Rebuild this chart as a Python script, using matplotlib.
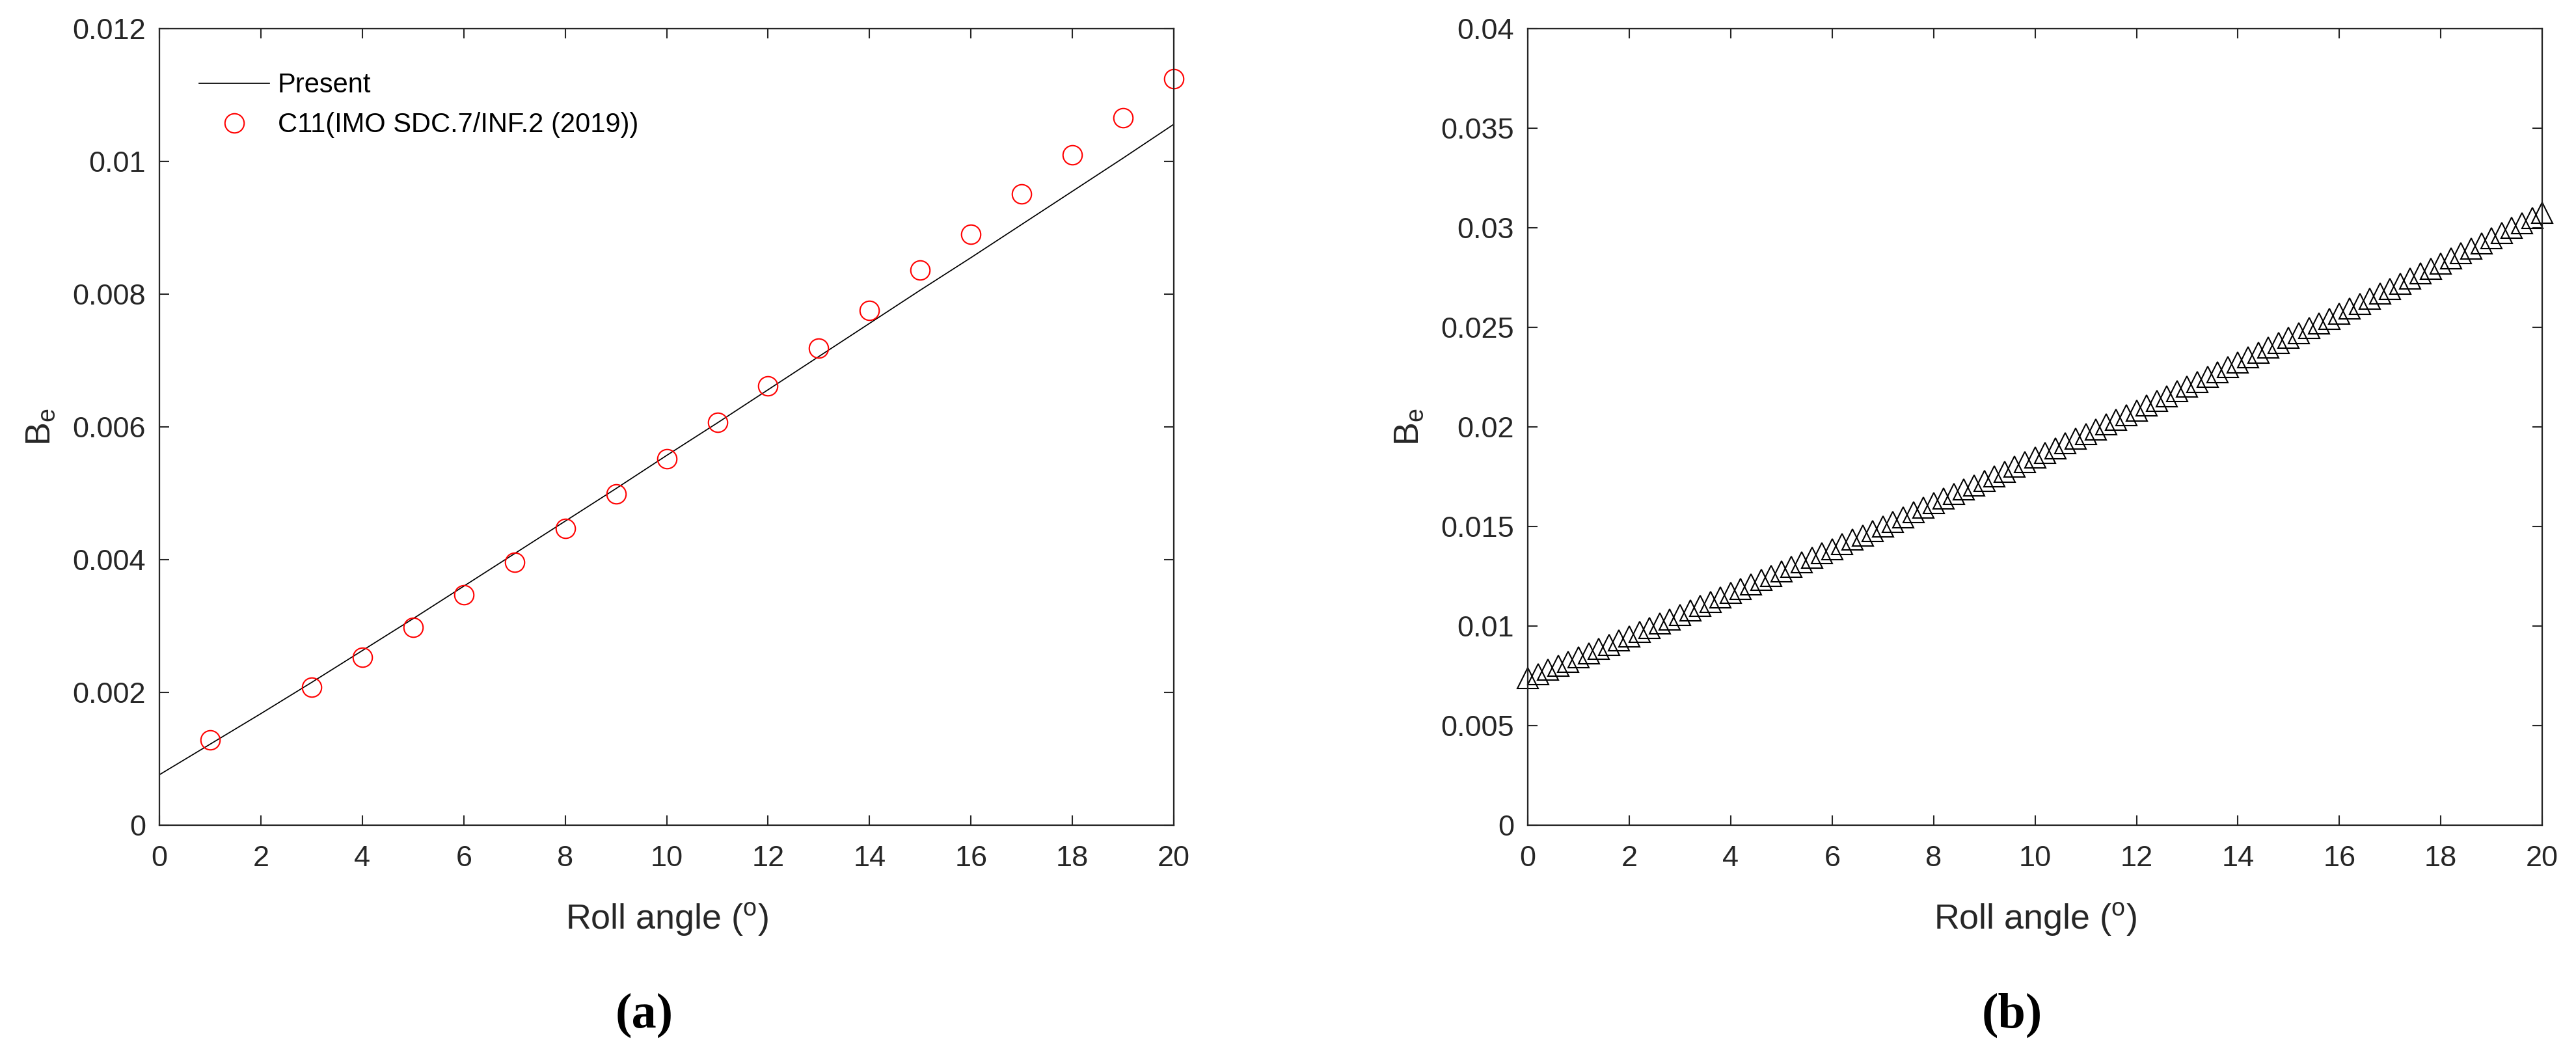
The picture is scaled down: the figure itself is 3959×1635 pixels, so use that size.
import numpy as np
import matplotlib
matplotlib.use('Agg')
import matplotlib.pyplot as plt

plt.rcParams['font.family'] = ['Liberation Sans', 'DejaVu Sans']
plt.rcParams['mathtext.default'] = 'regular'

# (a) present method vs. IMO C11 values
angle_line = list(range(0, 21))
be_present = [0.00076, 0.00122, 0.00168, 0.00215, 0.00263, 0.00311, 0.00360,
              0.00409, 0.00458, 0.00507, 0.00557, 0.00606, 0.00656, 0.00706,
              0.00756, 0.00806, 0.00855, 0.00905, 0.00955, 0.01005, 0.01056]

angle_c11 = [1, 3, 4, 5, 6, 7, 8, 9, 10, 11, 12, 13, 14, 15, 16, 17, 18, 19, 20]
be_c11 = [0.00128, 0.00208, 0.00253, 0.00298, 0.00347, 0.00396, 0.00447,
          0.00499, 0.00552, 0.00607, 0.00662, 0.00719, 0.00775, 0.00836,
          0.00890, 0.00951, 0.01010, 0.01066, 0.01124]

# (b) B_e over roll angle, step 0.2 deg
angle_b = np.round(np.arange(0, 20.001, 0.2), 1)
be_b = [0.00738, 0.00759, 0.00780, 0.00800, 0.00821,
        0.00842, 0.00863, 0.00884, 0.00906, 0.00927,
        0.00948, 0.00970, 0.00991, 0.01013, 0.01034,
        0.01056, 0.01078, 0.01100, 0.01121, 0.01143,
        0.01165, 0.01187, 0.01209, 0.01231, 0.01253,
        0.01275, 0.01297, 0.01320, 0.01342, 0.01365,
        0.01387, 0.01410, 0.01433, 0.01455, 0.01478,
        0.01501, 0.01524, 0.01547, 0.01571, 0.01594,
        0.01617, 0.01640, 0.01662, 0.01685, 0.01707,
        0.01730, 0.01753, 0.01776, 0.01800, 0.01823,
        0.01846, 0.01870, 0.01893, 0.01917, 0.01940,
        0.01964, 0.01988, 0.02012, 0.02035, 0.02059,
        0.02083, 0.02107, 0.02131, 0.02155, 0.02179,
        0.02203, 0.02227, 0.02251, 0.02276, 0.02300,
        0.02324, 0.02348, 0.02373, 0.02397, 0.02422,
        0.02446, 0.02471, 0.02495, 0.02520, 0.02544,
        0.02569, 0.02594, 0.02619, 0.02644, 0.02669,
        0.02694, 0.02719, 0.02744, 0.02770, 0.02795,
        0.02820, 0.02845, 0.02871, 0.02896, 0.02922,
        0.02947, 0.02973, 0.02999, 0.03024, 0.03050,
        0.03076]

xticks = list(range(0, 21, 2))
yticks_a = [0, 0.002, 0.004, 0.006, 0.008, 0.010, 0.012]
ylabels_a = ['0', '0.002', '0.004', '0.006', '0.008', '0.01', '0.012']
yticks_b = [0, 0.005, 0.010, 0.015, 0.020, 0.025, 0.030, 0.035, 0.040]
ylabels_b = ['0', '0.005', '0.01', '0.015', '0.02', '0.025', '0.03', '0.035', '0.04']

axis_color = '#262626'

fig = plt.figure(figsize=(15.836, 6.54), dpi=250)
ax1 = fig.add_axes([0.0619, 0.2245, 0.3938, 0.7486])
ax2 = fig.add_axes([0.5931, 0.2245, 0.3938, 0.7486])


def style_axes(ax, yticks, ylabels, ymax):
    ax.set_xlim(0, 20)
    ax.set_ylim(0, ymax)
    ax.set_xticks(xticks)
    ax.set_xticklabels([str(t) for t in xticks])
    ax.set_yticks(yticks)
    ax.set_yticklabels(ylabels)
    ax.tick_params(direction='in', length=4.3, width=0.6, top=True, right=True,
                   labelsize=13, colors=axis_color)
    ax.tick_params(axis='x', pad=9)
    ax.tick_params(axis='y', pad=6)
    for sp in ax.spines.values():
        sp.set_linewidth(0.65)
        sp.set_color(axis_color)
    ax.set_xlabel('Roll angle ($^o$)', fontsize=15.5, color=axis_color, labelpad=13)
    ax.set_ylabel('B$_e$', fontsize=15.5, color=axis_color, labelpad=7)


# Panel (a)
ax1.plot(angle_line, be_present, color='black', linewidth=0.5, label='Present')
ax1.plot(angle_c11, be_c11, linestyle='none', marker='o', markersize=8.5,
         markerfacecolor='none', markeredgecolor='red', markeredgewidth=0.6,
         label='C11(IMO SDC.7/INF.2 (2019))', clip_on=False)
style_axes(ax1, yticks_a, ylabels_a, 0.012)
ax1.legend(loc='upper left', bbox_to_anchor=(0.039, 0.945), frameon=False,
           fontsize=12, borderpad=0, borderaxespad=0, handlelength=2.6,
           handletextpad=0.3, labelspacing=0.5)

# Panel (b)
ax2.plot(angle_b, be_b, linestyle='none', marker='^', markersize=9,
         markerfacecolor='none', markeredgecolor='black', markeredgewidth=0.6,
         clip_on=False)
style_axes(ax2, yticks_b, ylabels_b, 0.04)

fig.text(990 / 3959, 1 - 1560 / 1635, '(a)', family='Liberation Serif',
         fontweight='bold', fontsize=22, ha='center', va='center')
fig.text(3092 / 3959, 1 - 1560 / 1635, '(b)', family='Liberation Serif',
         fontweight='bold', fontsize=22, ha='center', va='center')

fig.savefig('out.png', dpi=250)
